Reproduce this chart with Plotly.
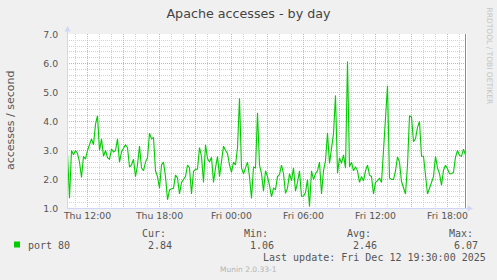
import plotly.graph_objects as go
import pandas as pd

# ---------------- data ----------------
START = "2025-12-11 10:20"
STEP = "10min"
values = [
    # Thu 10:20 ->
    2.9, 1.35, 3.0, 2.85, 3.0, 2.9, 2.6, 2.07, 2.8, 2.7, 3.0, 3.2, 3.4, 3.2, 3.9, 4.2, 3.0, 3.4, 2.8, 3.0,
    2.75, 2.7, 3.05, 2.95, 3.0, 3.4, 2.6, 2.95,
    3.1, 3.2, 3.1, 2.43, 2.5, 2.7, 2.1, 2.5, 3.15, 2.4, 2.3, 2.6, 2.75, 3.6, 3.4, 3.45, 2.3, 2.1, 1.7, 2.5,
    2.6, 2.1, 1.3, 1.64, 1.68, 1.7, 2.15, 2.05, 1.5,
    1.9, 2.0, 2.1, 2.5, 2.4, 1.5, 2.28, 2.35, 2.36, 3.1, 2.8, 1.9, 3.2, 2.72, 2.6, 2.77, 1.9, 2.4, 2.8, 2.1,
    2.6, 3.15, 3.0, 2.9, 2.5, 2.25, 2.6, 2.5, 3.1,
    4.8, 2.4, 2.2, 2.4, 2.6, 2.1, 1.35, 2.43, 2.4, 4.3, 2.5, 2.2, 1.6, 2.3, 2.1, 1.8, 1.4, 1.7, 1.65, 2.1,
    2.17, 2.5, 2.2, 1.52, 1.7, 2.2, 1.95, 2.4, 1.6,
    1.9, 2.3, 1.42, 1.42, 1.55, 2.0, 1.06, 2.3, 2.0, 2.2, 2.3, 2.6, 1.5, 2.3, 2.65, 3.6, 2.55, 3.0, 3.58, 4.9,
    2.22, 2.75, 2.56, 2.85, 2.39, 6.07, 2.44, 2.6, 2.3,
    2.44, 2.3, 1.9, 2.1, 1.95, 2.3, 2.5, 2.15, 2.1, 1.5, 1.9, 1.95, 2.05, 1.9, 3.0, 4.3, 5.23, 2.05, 2.0, 2.0,
    2.3, 2.78, 2.6, 1.93, 1.7, 1.5, 2.5, 4.2, 4.15,
    3.3, 3.4, 3.8, 4.0, 2.8, 2.8, 2.0, 1.5, 1.7, 1.9, 2.1, 2.8, 2.4, 2.2, 1.8, 2.32, 2.49, 2.37, 2.2, 2.2,
    2.25, 2.77, 3.0, 2.83, 2.8, 3.05, 2.84,
]
times = pd.date_range(START, periods=len(values), freq=STEP)

X_RANGE = ["2025-12-11 10:17:30", "2025-12-12 19:37:30"]
Y_RANGE = [1.0 - 0.5 / 29, 7.0 + 0.5 / 29]
xtick_vals = list(pd.date_range("2025-12-11 12:00", "2025-12-12 18:00", freq="3h"))
xtick_labels = ["Thu 12:00", "", "Thu 18:00", "", "Fri 00:00", "", "Fri 06:00", "",
                "Fri 12:00", "", "Fri 18:00"]
ytick_vals = [1, 2, 3, 4, 5, 6, 7]
ytick_labels = ["1.0", "2.0", "3.0", "4.0", "5.0", "6.0", "7.0"]

title = "Apache accesses - by day"
y_title = "accesses / second"
series_name = "port 80"
stat_names = ["Cur:", "Min:", "Avg:", "Max:"]
stat_values = ["2.84", "1.06", "2.46", "6.07"]
last_update = "Last update: Fri Dec 12 19:30:00 2025"
footer = "Munin 2.0.33-1"
side_text = "RRDTOOL / TOBI OETIKER"

# minor grid positions: every hour / every 0.2
x_minor = [t for t in pd.date_range("2025-12-11 11:00", "2025-12-12 19:00", freq="1h")
           if t.hour % 3 != 0]
y_minor = [round(1 + 0.2 * i, 1) for i in range(31) if i % 5 != 0]

# ---------------- layout helpers ----------------
W, H = 497, 280
L, R, T, B = 67, 30, 34, 71
PW, PH = W - L - R, H - T - B


def px(x):
    return (x - L) / PW


def py(y):
    return (T + PH - y) / PH


GREEN = "#00CC00"
TXT = "#555555"
AX = "#CFD6F8"
RED = "#F4A0A0"
GREY = "#D2D2D2"
DOTS = "1px,1px"
SANS = "DejaVu Sans"
MONO = "DejaVu Sans Mono"

fig = go.Figure()
fig.add_trace(go.Scatter(x=times, y=values, mode="lines",
                         line=dict(color=GREEN, width=1.1), name=series_name,
                         showlegend=False, hoverinfo="skip"))

fig.update_layout(
    width=W, height=H,
    margin=dict(l=L, r=R, t=T, b=B, pad=0),
    paper_bgcolor="#F0F0F0", plot_bgcolor="#FFFFFF",
    title=dict(text=title, x=0.5, xanchor="center", y=1 - 13.5 / H, yanchor="middle",
               font=dict(family=SANS, size=12.7, color="#444444")),
    xaxis=dict(type="date", range=X_RANGE, tickmode="array", tickvals=xtick_vals,
               ticktext=xtick_labels, showgrid=True, gridcolor=RED, griddash=DOTS,
               gridwidth=1, zeroline=False, showline=False,
               ticks="", tickfont=dict(family=SANS, size=9.3, color=TXT),
               minor=dict(tickmode="array", tickvals=x_minor, showgrid=True,
                          gridcolor=GREY, griddash=DOTS, gridwidth=1)),
    yaxis=dict(range=Y_RANGE, tickmode="array", tickvals=ytick_vals, ticktext=ytick_labels,
               showgrid=True, gridcolor=RED, griddash=DOTS, gridwidth=1,
               zeroline=False, showline=False, ticks="outside", ticklen=5,
               tickcolor="rgba(0,0,0,0)", ticklabelstandoff=1,
               tickfont=dict(family=SANS, size=9.3, color=TXT),
               minor=dict(tickmode="array", tickvals=y_minor, showgrid=True, gridcolor=GREY,
                          griddash=DOTS, gridwidth=1)),
)

shapes = []
# "now" line
shapes.append(dict(type="line", xref="x", yref="paper", x0=times[-1], x1=times[-1],
                   y0=0, y1=1, line=dict(color="#8C8C8C", width=1)))
# axis lines with arrows
shapes.append(dict(type="line", xref="paper", yref="paper", x0=px(67.5), x1=px(67.5),
                   y0=py(208.5), y1=py(29), line=dict(color=AX, width=1)))
shapes.append(dict(type="line", xref="paper", yref="paper", x0=px(67), x1=px(469),
                   y0=py(208.5), y1=py(208.5), line=dict(color=AX, width=1)))
shapes.append(dict(type="path", xref="paper", yref="paper",
                   path=f"M {px(64.5)},{py(31.5)} L {px(67.5)},{py(26)} L {px(70.5)},{py(31.5)} Z",
                   fillcolor=AX, line=dict(color=AX, width=0)))
shapes.append(dict(type="path", xref="paper", yref="paper",
                   path=f"M {px(467.5)},{py(205.5)} L {px(473)},{py(208.5)} L {px(467.5)},{py(211.5)} Z",
                   fillcolor=AX, line=dict(color=AX, width=0)))
# legend colour box
shapes.append(dict(type="rect", xref="paper", yref="paper", x0=px(14), x1=px(20),
                   y0=py(247.5), y1=py(241.5), fillcolor=GREEN, line=dict(width=0)))
fig.update_layout(shapes=shapes)

ann = []


def text(s, x, y, size, color, family, xanchor="left", angle=0):
    ann.append(dict(text=s, xref="paper", yref="paper", x=px(x), y=py(y),
                    xanchor=xanchor, yanchor="middle", showarrow=False, textangle=angle,
                    font=dict(family=family, size=size, color=color), borderpad=0))


text(y_title, 10, 120, 11, TXT, SANS, xanchor="center", angle=-90)
text(side_text, 488.5, 56, 7.5, "#C4C4C4", SANS, xanchor="center", angle=90)
text(series_name, 26.5, 245.5, 10, TXT, MONO)
stat_x = [140.5, 243.3, 345.7, 447.7]
val_x = [146.7, 249.3, 351.7, 453.3]
for nm, vx, v, vvx in zip(stat_names, stat_x, stat_values, val_x):
    text(nm, vx, 233.5, 10, TXT, MONO)
    text(v, vvx, 245.5, 10, TXT, MONO)
text(last_update, 261.5, 257.5, 10, TXT, MONO)
text(footer, 219, 269.5, 7.5, "#B4B4B4", SANS)
fig.update_layout(annotations=ann)

fig.write_html("out.html")
